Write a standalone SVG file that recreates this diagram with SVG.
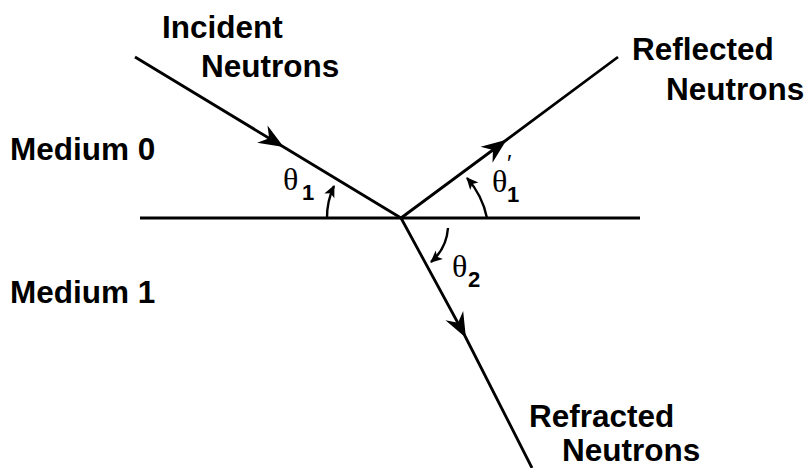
<svg xmlns="http://www.w3.org/2000/svg" width="808" height="468" viewBox="0 0 808 468">
<style>
.lbl{font-family:"Liberation Sans",Arial,sans-serif;font-weight:bold;font-size:31.5px;fill:#000}
.th{font-family:"Liberation Serif","DejaVu Serif",serif;font-size:32px;fill:#000}
.sub{font-family:"Liberation Sans",Arial,sans-serif;font-weight:bold;font-size:22px}
.pr{font-family:"Liberation Sans",Arial,sans-serif;font-size:24px}
.ln{stroke:#000;stroke-width:2.8;fill:none}
.arc{stroke:#000;stroke-width:2.4;fill:none}
</style>
<defs>
<marker id="big" markerUnits="userSpaceOnUse" markerWidth="34" markerHeight="30" viewBox="-28 -15 34 30" refX="0" refY="0" orient="auto">
<path d="M2,0 L-23,-10 L-15,0 L-23,10 Z" fill="#000"/>
</marker>
<marker id="sm" markerUnits="userSpaceOnUse" markerWidth="20" markerHeight="20" viewBox="-15 -10 20 20" refX="0" refY="0" orient="auto">
<path d="M1,0 L-11,-5.5 L-8,0 L-11,5.5 Z" fill="#000"/>
</marker>
</defs>
<rect width="808" height="468" fill="#fff"/>
<g id="connectors">
<line id="interface" class="ln" x1="140" y1="218" x2="640" y2="218"/>
<path id="incident" class="ln" d="M135,57 L282,146 L401,218" marker-mid="url(#big)"/>
<path id="reflected" class="ln" d="M401,218 L505,141 L618,57" marker-mid="url(#big)"/>
<path id="refracted" class="ln" d="M401,218 L465,336 L532,468" marker-mid="url(#big)"/>
<path id="arc1" class="arc" d="M327,218 A74,74 0 0,1 334,186" marker-end="url(#sm)"/>
<path id="arc1p" class="arc" d="M487,218 A86,86 0 0,0 467,178" marker-end="url(#sm)"/>
<path id="arc2" class="arc" d="M448,228 A50,50 0 0,1 431,262" marker-end="url(#sm)"/>
</g>
<g id="incident-label"><text class="lbl" x="162" y="38">Incident</text><text class="lbl" x="201" y="77">Neutrons</text></g>
<g id="reflected-label"><text class="lbl" x="632" y="60">Reflected</text><text class="lbl" x="666" y="100">Neutrons</text></g>
<g id="refracted-label"><text class="lbl" x="529" y="427">Refracted</text><text class="lbl" x="562" y="461">Neutrons</text></g>
<g id="medium0"><text class="lbl" x="10" y="160">Medium 0</text></g>
<g id="medium1"><text class="lbl" x="10" y="303">Medium 1</text></g>
<g id="theta1"><text class="th" x="283" y="190">θ<tspan class="sub" x="302" y="200">1</tspan></text></g>
<g id="theta1p"><text class="th" x="492" y="192">θ<tspan class="pr" x="507" y="172">′</tspan><tspan class="sub" x="507" y="202">1</tspan></text></g>
<g id="theta2"><text class="th" x="452" y="277">θ<tspan class="sub" x="468" y="287">2</tspan></text></g>
</svg>
